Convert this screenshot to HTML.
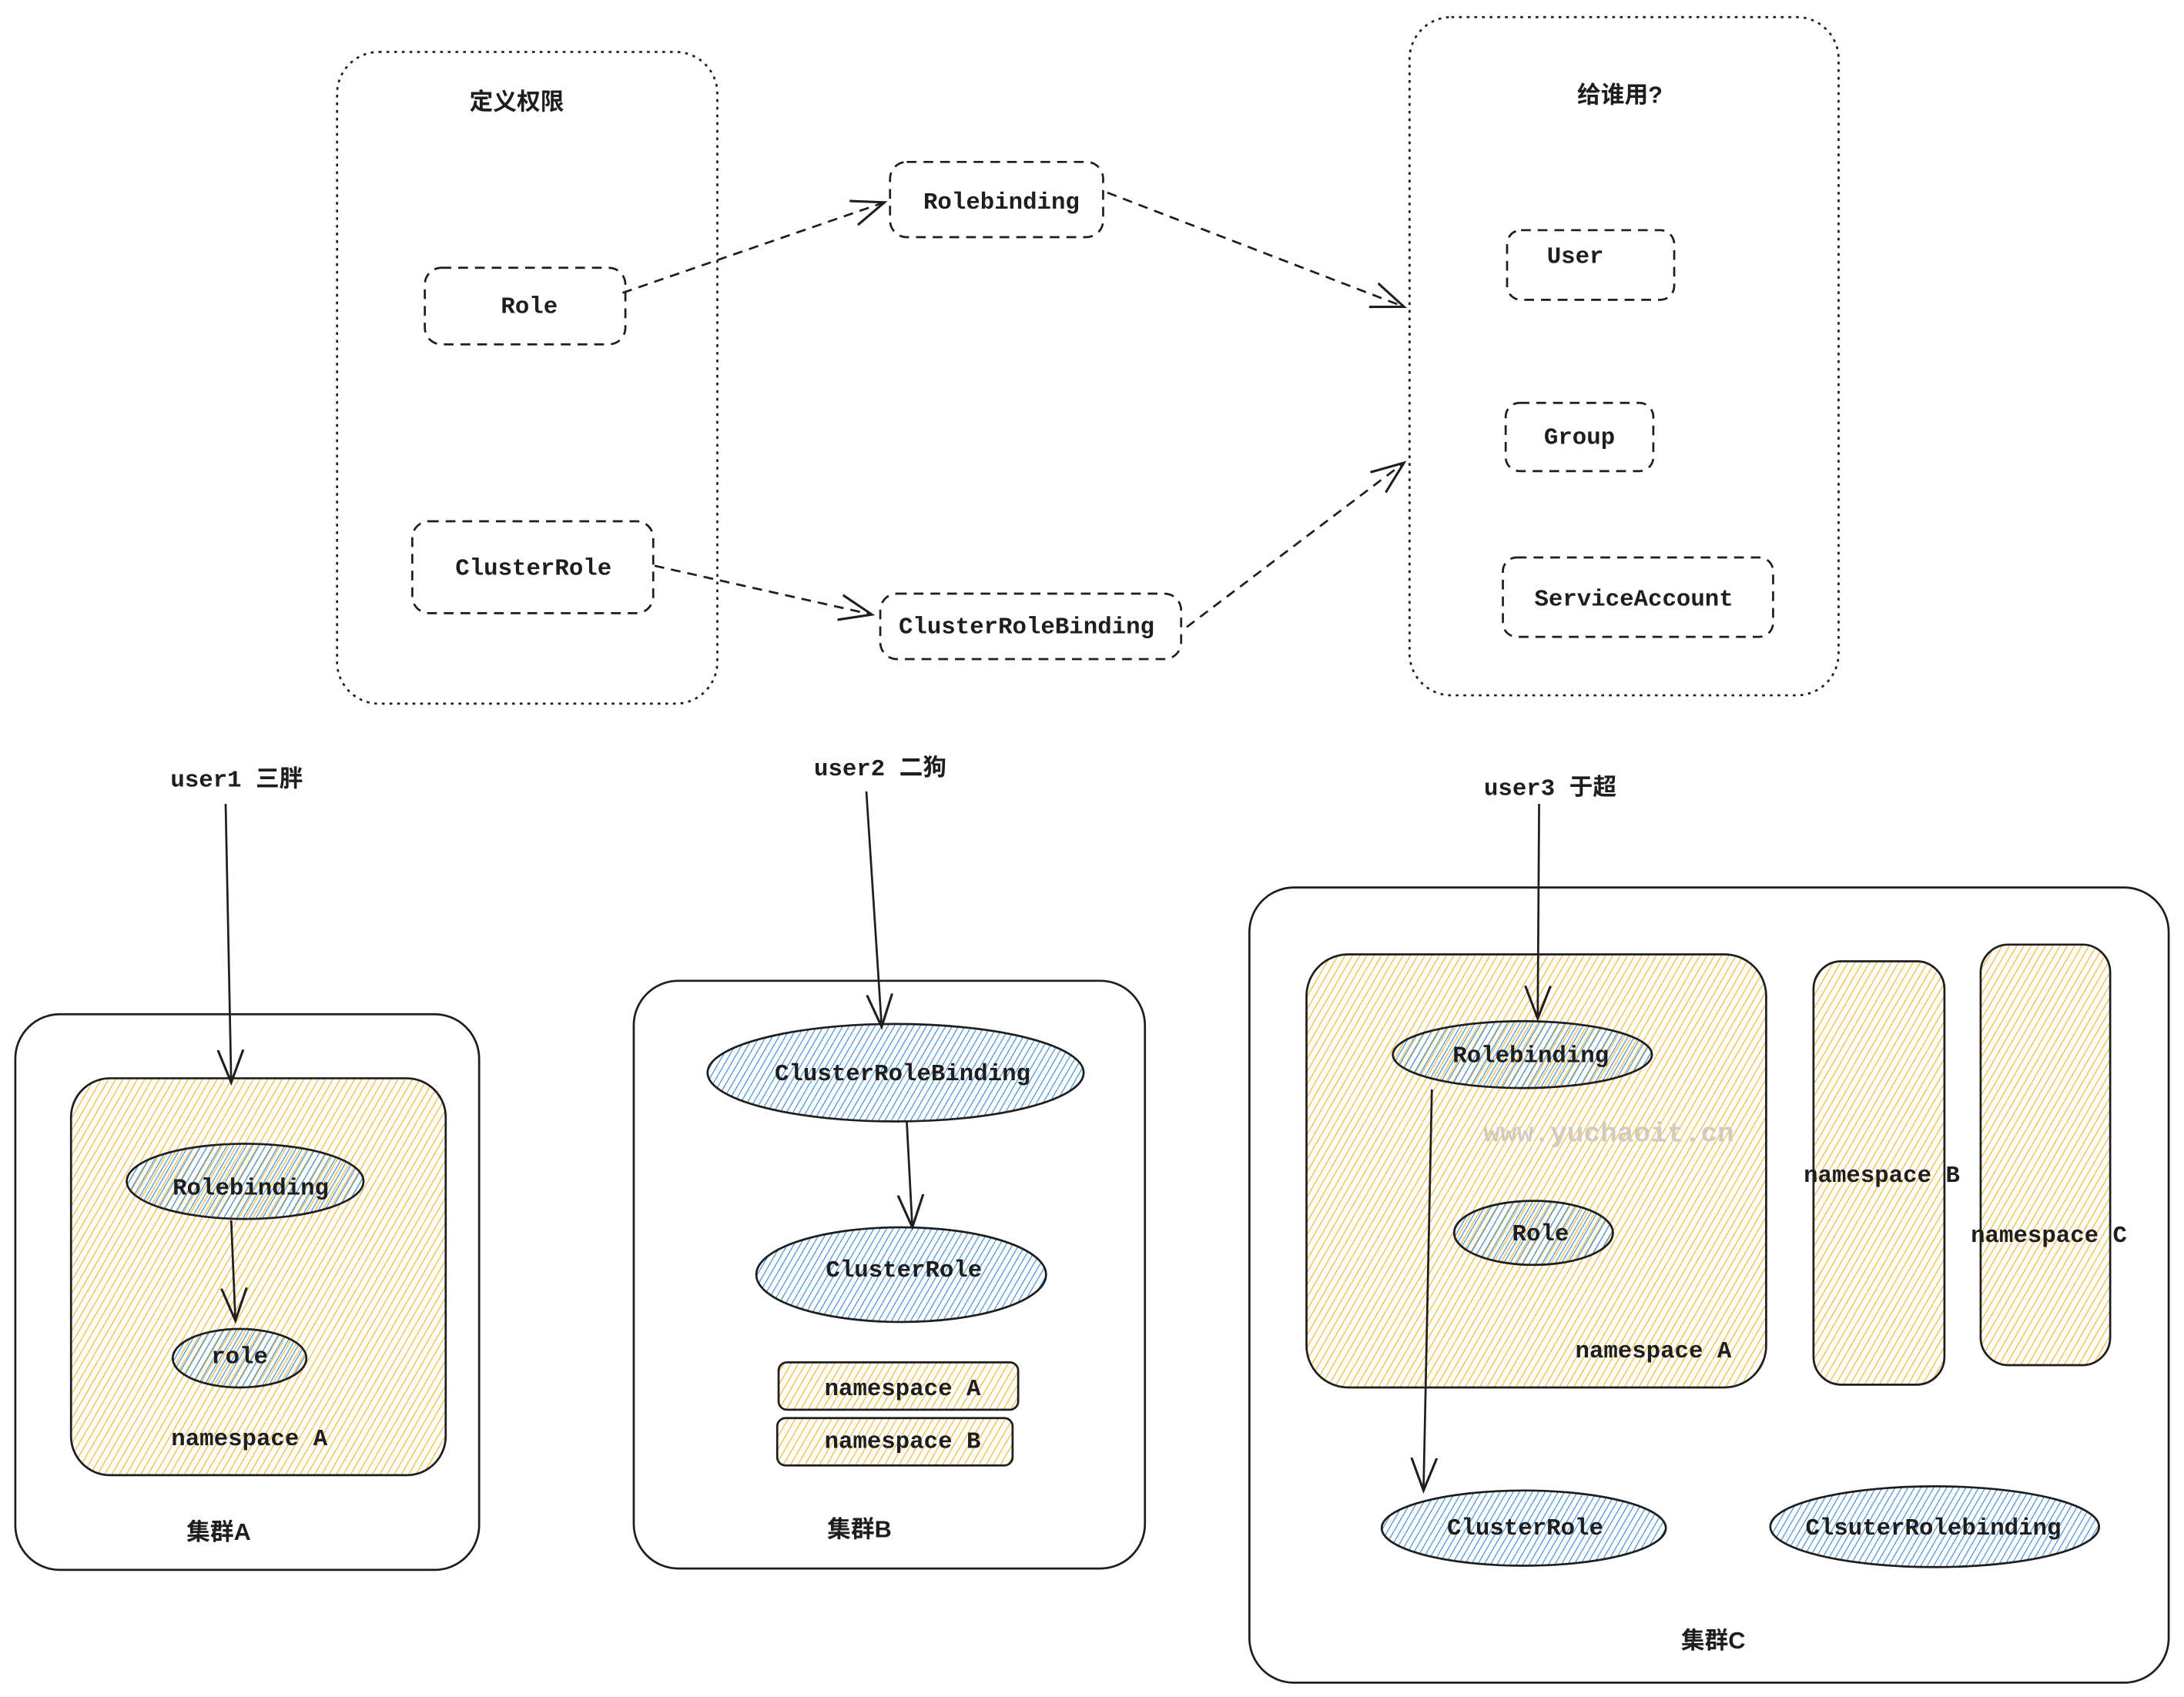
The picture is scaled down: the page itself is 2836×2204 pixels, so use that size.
<!DOCTYPE html>
<html><head><meta charset="utf-8"><style>
html,body{margin:0;padding:0;background:#fff;}
svg{display:block}
.m{font-family:"Liberation Mono","Noto Sans CJK SC",monospace;font-size:17px;font-weight:bold;fill:#1e1e1e;text-anchor:middle;dominant-baseline:middle;}
.c{font-family:"Liberation Sans","Noto Sans CJK SC",sans-serif;font-size:17px;font-weight:bold;fill:#1e1e1e;text-anchor:middle;dominant-baseline:middle;}
</style></head><body>
<svg width="2836" height="2204" viewBox="0 0 1568 1218" xmlns="http://www.w3.org/2000/svg">
<defs>
<pattern id="ho" width="4.5" height="4.5" patternUnits="userSpaceOnUse" patternTransform="rotate(30)">
<line x1="0" y1="0" x2="0" y2="4.5" stroke="#f5b42a" stroke-width="1.3"/></pattern>
<pattern id="hb" width="4" height="4" patternUnits="userSpaceOnUse" patternTransform="rotate(30)">
<line x1="0" y1="0" x2="0" y2="4" stroke="#3b8ee0" stroke-width="1.3"/></pattern>
<marker id="a" viewBox="0 0 20 20" refX="18" refY="10" markerWidth="26" markerHeight="26" markerUnits="userSpaceOnUse" orient="auto">
<path d="M0,3 L18,10 L0,17" fill="none" stroke="#1e1e1e" stroke-width="1.3"/></marker>
</defs>
<g fill="none" stroke="#1e1e1e" stroke-width="1.5">
<rect x="242" y="37" width="273" height="468" rx="30" stroke-dasharray="2 3.5"/>
<rect x="1012" y="12" width="308" height="487" rx="30" stroke-dasharray="2 3.5"/>
<g stroke-dasharray="7 5">
<rect x="305" y="192" width="144" height="55" rx="12"/>
<rect x="296" y="374" width="173" height="66" rx="12"/>
<rect x="639" y="116" width="153" height="54" rx="12"/>
<rect x="632" y="426" width="216" height="47" rx="12"/>
<rect x="1082" y="165" width="120" height="50" rx="10"/>
<rect x="1081" y="289" width="106" height="49" rx="10"/>
<rect x="1079" y="400" width="194" height="57" rx="10"/>
<line x1="447" y1="210" x2="635" y2="145" marker-end="url(#a)"/>
<line x1="795" y1="138" x2="1008" y2="220" marker-end="url(#a)"/>
<line x1="470" y1="406" x2="626" y2="441" marker-end="url(#a)"/>
<line x1="852" y1="450" x2="1008" y2="332" marker-end="url(#a)"/>
</g>
<rect x="11" y="728" width="333" height="399" rx="32"/>
<rect x="455" y="704" width="367" height="422" rx="32"/>
<rect x="897" y="637" width="660" height="571" rx="32"/>
<rect x="51" y="774" width="269" height="285" rx="28" fill="url(#ho)"/>
<rect x="559" y="978" width="172" height="34" rx="6" fill="url(#ho)"/>
<rect x="558" y="1018" width="169" height="34" rx="6" fill="url(#ho)"/>
<rect x="938" y="685" width="330" height="311" rx="30" fill="url(#ho)"/>
<rect x="1302" y="690" width="94" height="304" rx="20" fill="url(#ho)"/>
<rect x="1422" y="678" width="93" height="302" rx="20" fill="url(#ho)"/>
<ellipse cx="176" cy="848" rx="85" ry="27" fill="url(#hb)"/>
<ellipse cx="172" cy="975" rx="48" ry="21" fill="url(#hb)"/>
<ellipse cx="643" cy="770" rx="135" ry="35" fill="url(#hb)"/>
<ellipse cx="647" cy="915" rx="104" ry="34" fill="url(#hb)"/>
<ellipse cx="1093" cy="757" rx="93" ry="24" fill="url(#hb)"/>
<ellipse cx="1101" cy="885" rx="57" ry="23" fill="url(#hb)"/>
<ellipse cx="1094" cy="1097" rx="102" ry="27" fill="url(#hb)"/>
<ellipse cx="1389" cy="1096" rx="118" ry="29" fill="url(#hb)"/>
<line x1="162" y1="577" x2="166" y2="777" marker-end="url(#a)"/>
<line x1="166" y1="876" x2="169" y2="948" marker-end="url(#a)"/>
<line x1="622" y1="568" x2="633" y2="737" marker-end="url(#a)"/>
<line x1="651" y1="805" x2="655" y2="881" marker-end="url(#a)"/>
<line x1="1105" y1="577" x2="1104" y2="731" marker-end="url(#a)"/>
<line x1="1028" y1="782" x2="1022" y2="1070" marker-end="url(#a)"/>
</g>
<text class="c" x="371" y="74">定义权限</text>
<text class="c" x="1163" y="69">给谁用?</text>
<text class="m" x="380" y="220">Role</text>
<text class="m" x="383" y="408">ClusterRole</text>
<text class="m" x="719" y="145">Rolebinding</text>
<text class="m" x="737" y="450">ClusterRoleBinding</text>
<text class="m" x="1131" y="184">User</text>
<text class="m" x="1134" y="314">Group</text>
<text class="m" x="1173" y="430">ServiceAccount</text>
<text class="m" x="170" y="560">user1 三胖</text>
<text class="m" x="632" y="552">user2 二狗</text>
<text class="m" x="1113" y="566">user3 于超</text>
<text class="m" x="180" y="853">Rolebinding</text>
<text class="m" x="172" y="974">role</text>
<text class="m" x="179" y="1033">namespace A</text>
<text class="c" x="157" y="1101">集群A</text>
<text class="m" x="648" y="771">ClusterRoleBinding</text>
<text class="m" x="649" y="912">ClusterRole</text>
<text class="m" x="648" y="997">namespace A</text>
<text class="m" x="648" y="1035">namespace B</text>
<text class="c" x="617" y="1099">集群B</text>
<text class="m" x="1099" y="758">Rolebinding</text>
<text class="m" x="1106" y="886">Role</text>
<text class="m" x="1155" y="814" style="fill:#d3cbbd;font-size:20px">www.yuchaoit.cn</text>
<text class="m" x="1187" y="970">namespace A</text>
<text class="m" x="1351" y="844">namespace B</text>
<text class="m" x="1471" y="887">namespace C</text>
<text class="m" x="1095" y="1097">ClusterRole</text>
<text class="m" x="1388" y="1097">ClsuterRolebinding</text>
<text class="c" x="1230" y="1179">集群C</text>
</svg>
</body></html>
